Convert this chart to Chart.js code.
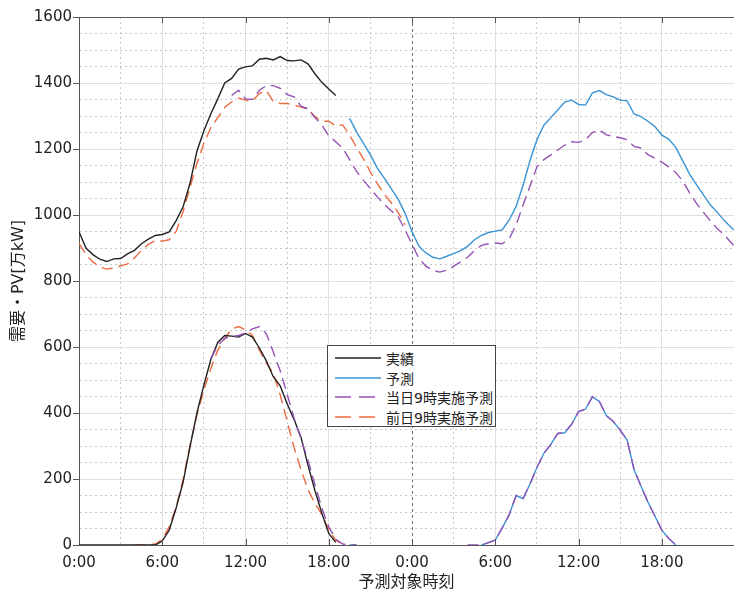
<!DOCTYPE html>
<html>
<head>
<meta charset="utf-8">
<script src="https://cdn.jsdelivr.net/npm/chart.js@4.4.1/dist/chart.umd.min.js"></script>
<style>
  html, body { margin: 0; padding: 0; background: #fff; }
  #wrap { position: relative; width: 734px; height: 592px; }
  #legend {
    position: absolute; left: 327px; top: 345px; width: 169px; height: 82px;
    border: 1px solid #444; background: #fff; box-sizing: border-box;
    font-family: "DejaVu Sans", "Noto Sans CJK JP", sans-serif; font-size: 14px; color: #222;
    padding-top: 2px;
  }
  #legend .row { display: flex; align-items: center; height: 19.7px; }
  #legend svg { margin-left: 7px; margin-right: 5px; }
</style>
</head>
<body>
<div id="wrap">
  <canvas id="demandChart" width="734" height="592"></canvas>
  <div id="legend"></div>
</div>
<script>
// time step of all series (hours)
const STEP = 0.5;

// 実績 (actual) - starts at 0:00
const actualDemandStart = 0;
const actualDemand = [949, 900, 880, 866, 859, 867, 868, 882, 893, 913, 927, 938, 941, 949, 983, 1025, 1096, 1194, 1255, 1307,
  1352, 1400, 1414, 1442, 1449, 1452, 1472, 1475, 1470, 1480, 1468, 1467, 1470, 1458, 1428, 1402, 1382, 1362];
const actualPvStart = 0;
const actualPv = [0, 0, 0, 0, 0, 0, 0, 0, 0, 0, 0, 0, 12, 45, 112, 190, 298, 400, 485, 562,
  614, 635, 633, 630, 641, 630, 597, 558, 510, 482, 428, 380, 326, 242, 165, 96, 35, 8];

// 予測 (forecast) - starts at 19:30
const forecastDemandStart = 19.5;
const forecastDemand = [1293, 1252, 1217, 1182, 1142, 1112, 1080, 1048, 1005, 949, 905, 885, 872, 867, 875, 883, 892, 905, 925, 938,
  947, 951, 955, 985, 1026, 1090, 1165, 1228, 1272, 1295, 1318, 1342, 1348, 1335, 1333, 1370, 1377, 1365, 1358, 1348,
  1346, 1306, 1298, 1284, 1268, 1242, 1230, 1205, 1165, 1124, 1091, 1061, 1030, 1008, 983, 962, 945];
const forecastPvStart = 19.5;
const forecastPv = [0, 0, null, null, null, null, null, null, null, null, null, null, null, null, null, null, null, null, null,
  0, 7, 15, 52, 92, 150, 141, 185, 235, 278, 305, 338, 340, 366, 404, 412, 449, 435, 392, 374, 348, 318, 228, 178, 130, 88, 45, 20, 0];

// 当日9時実施予測 (same-day 9:00 forecast)
const sameDayDemandStart = 11;
const sameDayDemand = [1362, 1378, 1352, 1350, 1378, 1392, 1392, 1384, 1365, 1358, 1330, 1322, 1295, 1273, 1240, 1222, 1203, 1168, 1132, 1105,
  1080, 1055, 1032, 1013, 995, 955, 910, 868, 845, 832, 827, 833, 845, 858, 872, 892, 908, 913, 915, 913,
  928, 970, 1030, 1088, 1146, 1168, 1182, 1197, 1212, 1222, 1220, 1228, 1250, 1258, 1243, 1238, 1234, 1228, 1208, 1203,
  1183, 1172, 1160, 1146, 1129, 1103, 1067, 1035, 1008, 982, 958, 940, 916, 895];
const sameDayPvStart = 9.5;
const sameDayPv = [565, 605, 626, 632, 635, 643, 655, 662, 640, 585, 528, 457, 384, 322, 258, 183, 112, 55, 18, 3, 0, 0,
  null, null, null, null, null, null, null, null, null, null, null, null, null, null, null,
  0, 0, 0, 7, 15, 52, 92, 150, 141, 185, 235, 278, 305, 338, 340, 366, 404, 412, 449, 435, 392, 374, 348, 318, 228, 178, 130, 88, 45, 20, 0];

// 前日9時実施予測 (previous-day 9:00 forecast)
const prevDayDemandStart = 0;
const prevDayDemand = [914, 880, 858, 842, 836, 840, 846, 852, 870, 893, 911, 922, 921, 925, 950, 1010, 1083, 1157, 1217, 1265,
  1295, 1326, 1343, 1354, 1348, 1346, 1368, 1377, 1345, 1338, 1338, 1333, 1327, 1321, 1298, 1284, 1284, 1270, 1273, 1242,
  1205, 1170, 1130, 1095, 1063, 1037, 1008, 970];
const prevDayPvStart = 4;
const prevDayPv = [0, 0, 0, 3, 17, 55, 115, 198, 302, 395, 470, 535, 590, 625, 655, 662, 652, 635, 590, 552,
  520, 455, 375, 295, 228, 168, 126, 92, 45, 15, 0];

// axis
const xMin = 0, xMax = 47.2, xStep = 3;
const yMin = 0, yMax = 1600, yStep = 50;
const xTitle = '予測対象時刻';
const yTitle = '需要・PV[万kW]';

const seriesNames = ['実績', '予測', '当日9時実施予測', '前日9時実施予測'];
const seriesColors = ['#222222', '#3a94d4', '#9452b5', '#ec6a3f'];
const seriesDash = [[], [], [11, 6], [11, 6]];
const seriesOrder = [2, 4, 1, 3];

function points(start, values) {
  return values.map((v, i) => ({ x: start + i * STEP, y: v }));
}

function makeDataset(idx, start, values) {
  return {
    label: seriesNames[idx],
    data: points(start, values),
    borderColor: seriesColors[idx],
    backgroundColor: seriesColors[idx],
    borderDash: seriesDash[idx],
    borderWidth: 1.4,
    pointRadius: 0,
    tension: 0,
    spanGaps: false,
    fill: false,
    order: seriesOrder[idx]
  };
}

const datasets = [
  makeDataset(0, actualDemandStart, actualDemand),
  makeDataset(0, actualPvStart, actualPv),
  makeDataset(1, forecastDemandStart, forecastDemand),
  makeDataset(1, forecastPvStart, forecastPv),
  makeDataset(2, sameDayDemandStart, sameDayDemand),
  makeDataset(2, sameDayPvStart, sameDayPv),
  makeDataset(3, prevDayDemandStart, prevDayDemand),
  makeDataset(3, prevDayPvStart, prevDayPv)
];

const FONT = '"DejaVu Sans", "Noto Sans CJK JP", sans-serif';
const AXIS_COLOR = '#555555';

// top frame line and inward x tick marks
const framePlugin = {
  id: 'frame',
  afterDraw(chart) {
    const { ctx, chartArea } = chart;
    const xs = chart.scales.x;
    ctx.save();
    ctx.strokeStyle = AXIS_COLOR;
    ctx.lineWidth = 1;
    ctx.beginPath();
    ctx.moveTo(chartArea.left, chartArea.top + 0.5);
    ctx.lineTo(chartArea.right, chartArea.top + 0.5);
    xs.ticks.forEach(t => {
      if (t.value % 6 !== 0 || t.value === xMin) return;
      const px = Math.round(xs.getPixelForValue(t.value)) + 0.5;
      ctx.moveTo(px, chartArea.bottom);
      ctx.lineTo(px, chartArea.bottom - 6);
      ctx.moveTo(px, chartArea.top);
      ctx.lineTo(px, chartArea.top + 6);
    });
    ctx.stroke();
    ctx.restore();
  }
};

new Chart(document.getElementById('demandChart'), {
  type: 'line',
  data: { datasets: datasets },
  options: {
    responsive: false,
    animation: false,
    layout: { padding: { top: 17, right: 0, left: 0, bottom: 0 } },
    plugins: {
      legend: { display: false },
      tooltip: { enabled: false }
    },
    scales: {
      x: {
        type: 'linear',
        min: xMin,
        max: xMax,
        afterFit: s => { s.height = 47; },
        afterBuildTicks: s => { s.ticks = s.ticks.filter(t => t.value % xStep === 0); },
        ticks: {
          stepSize: xStep,
          autoSkip: false,
          maxRotation: 0,
          padding: 9,
          color: '#222',
          font: { family: FONT, size: 15 },
          callback: v => (v % 6 === 0 ? (v % 24) + ':00' : '')
        },
        grid: {
          drawTicks: false,
          color: c => (c.tick && c.tick.value === 24 ? '#707070' : (c.tick && c.tick.value % 6 === 0 ? '#e0e0e0' : '#c8c8c8')),
          lineWidth: 1
        },
        border: {
          color: AXIS_COLOR,
          width: 1,
          dash: c => (!c.tick ? [] : (c.tick.value === 24 ? [3, 3] : (c.tick.value % 6 === 0 ? [] : [2, 3])))
        },
        title: {
          display: true,
          text: xTitle,
          color: '#222',
          padding: { top: 0, bottom: 0 },
          font: { family: FONT, size: 16 }
        }
      },
      y: {
        min: yMin,
        max: yMax,
        afterFit: s => { s.width = 79; },
        ticks: {
          stepSize: yStep,
          autoSkip: false,
          padding: 1,
          color: '#222',
          font: { family: FONT, size: 15 },
          callback: v => (v % 200 === 0 ? v : '')
        },
        grid: {
          tickLength: 6,
          tickColor: c => (c.tick && c.tick.value % 200 === 0 ? AXIS_COLOR : 'rgba(0,0,0,0)'),
          color: c => (c.tick && c.tick.value % 200 === 0 ? '#e0e0e0' : '#c8c8c8'),
          lineWidth: 1
        },
        border: {
          color: AXIS_COLOR,
          width: 1,
          dash: c => (!c.tick ? [] : (c.tick.value % 200 === 0 ? [] : [2, 3]))
        },
        title: {
          display: true,
          text: yTitle,
          color: '#222',
          padding: { top: 9, bottom: 0 },
          font: { family: FONT, size: 16 }
        }
      }
    }
  },
  plugins: [framePlugin]
});

// legend box inside the plot
const legend = document.getElementById('legend');
seriesNames.forEach((name, i) => {
  const row = document.createElement('div');
  row.className = 'row';
  const dash = seriesDash[i].length ? ' stroke-dasharray="16 8"' : '';
  row.innerHTML = '<svg width="46" height="4"><line x1="0" y1="2" x2="46" y2="2" stroke="' + seriesColors[i] +
    '" stroke-width="1.6"' + dash + '/></svg><span>' + name + '</span>';
  legend.appendChild(row);
});
</script>
</body>
</html>
